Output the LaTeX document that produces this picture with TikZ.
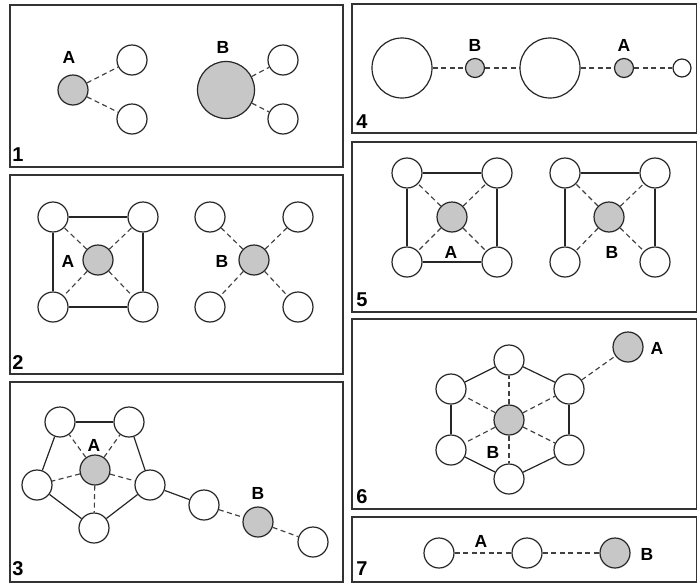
\documentclass[tikz,border=0pt]{standalone}
\usepackage{fontspec}
\setmainfont{Liberation Sans}
\begin{document}
\begin{tikzpicture}[x=1pt,y=-1pt,
  panel/.style={draw=black!80,line width=1.3pt},
  wat/.style={circle,draw=black!85,line width=1.2pt,fill=white,minimum size=30pt,inner sep=0pt},
  ion/.style={wat,fill=black!22},
  lab/.style={font=\fontsize{17.5}{19}\selectfont\bfseries,inner sep=0pt},
  num/.style={font=\fontsize{20}{22}\selectfont\bfseries,inner sep=0pt},
  hb/.style={draw=black!75,line width=1.15pt,dash pattern=on 5pt off 3.5pt},
  bond/.style={draw=black!85,line width=1.2pt}]
\useasboundingbox (0,0) rectangle (697,584);
% panels
\draw[panel] (10,5) rectangle (343,167);
\draw[panel] (10,175) rectangle (343,374);
\draw[panel] (10,382) rectangle (343,582);
\draw[panel] (352,4) rectangle (697,133);
\draw[panel] (352,142) rectangle (697,312);
\draw[panel] (352,319) rectangle (697,509);
\draw[panel] (352,517) rectangle (697,582);
% panel numbers
\node[num] (n1) at (18,155) {1};
\node[num] (n2) at (18,363) {2};
\node[num] (n3) at (18,569) {3};
\node[num] (n4) at (362,122) {4};
\node[num] (n5) at (362,300) {5};
\node[num] (n6) at (362,497) {6};
\node[num] (n7) at (362,569) {7};
% ---- panel 1
\node[ion] (p1a) at (73,90) {};
\node[wat] (p1a1) at (132,60) {};
\node[wat] (p1a2) at (132,119) {};
\draw[hb] (p1a) -- (p1a1);
\draw[hb] (p1a) -- (p1a2);
\node[lab] (p1la) at (69,57) {A};
\node[ion,minimum size=57pt] (p1b) at (226,90) {};
\node[wat] (p1b1) at (283,60) {};
\node[wat] (p1b2) at (283,119) {};
\draw[hb] (p1b) -- (p1b1);
\draw[hb] (p1b) -- (p1b2);
\node[lab] (p1lb) at (223,47) {B};
% ---- panel 2
\node[ion] (p2a) at (98,260) {};
\node[wat] (p2a1) at (53,217) {};
\node[wat] (p2a2) at (143,217) {};
\node[wat] (p2a3) at (53,307) {};
\node[wat] (p2a4) at (143,307) {};
\draw[bond] (p2a1) -- (p2a2);
\draw[bond] (p2a1) -- (p2a3);
\draw[bond] (p2a2) -- (p2a4);
\draw[bond] (p2a3) -- (p2a4);
\foreach \i in {1,...,4} \draw[hb] (p2a) -- (p2a\i);
\node[lab] (p2la) at (68,261) {A};
\node[ion] (p2b) at (254,260) {};
\node[wat] (p2b1) at (210,217) {};
\node[wat] (p2b2) at (298,217) {};
\node[wat] (p2b3) at (210,307) {};
\node[wat] (p2b4) at (298,307) {};
\foreach \i in {1,...,4} \draw[hb] (p2b) -- (p2b\i);
\node[lab] (p2lb) at (222,261) {B};
% ---- panel 3
\node[ion] (p3a) at (95,470) {};
\node[wat] (p3w1) at (60,422) {};
\node[wat] (p3w2) at (129,422) {};
\node[wat] (p3w3) at (37,485) {};
\node[wat] (p3w4) at (150,485) {};
\node[wat] (p3w5) at (94,528) {};
\draw[bond] (p3w1) -- (p3w2);
\draw[bond] (p3w1) -- (p3w3);
\draw[bond] (p3w2) -- (p3w4);
\draw[bond] (p3w3) -- (p3w5);
\draw[bond] (p3w5) -- (p3w4);
\foreach \i in {1,...,5} \draw[hb] (p3a) -- (p3w\i);
\node[lab] (p3la) at (94,445) {A};
\node[wat] (p3c1) at (204,505) {};
\node[ion] (p3b) at (258,522) {};
\node[wat] (p3c2) at (313,542) {};
\draw[bond] (p3w4) -- (p3c1);
\draw[hb] (p3c1) -- (p3b);
\draw[hb] (p3b) -- (p3c2);
\node[lab] (p3lb) at (258,493) {B};
% ---- panel 4
\node[wat,minimum size=60pt] (p4w1) at (402,68) {};
\node[ion,minimum size=19pt] (p4b) at (475,68) {};
\node[wat,minimum size=60pt] (p4w2) at (550,68) {};
\node[ion,minimum size=19pt] (p4a) at (624,68) {};
\node[wat,minimum size=18pt] (p4w3) at (682,68) {};
\draw[hb] (p4w1) -- (p4b);
\draw[hb] (p4b) -- (p4w2);
\draw[hb] (p4w2) -- (p4a);
\draw[hb] (p4a) -- (p4w3);
\node[lab] (p4lb) at (475,45) {B};
\node[lab] (p4la) at (624,45) {A};
% ---- panel 5
\node[ion] (p5a) at (452,217) {};
\node[wat] (p5a1) at (407,173) {};
\node[wat] (p5a2) at (497,173) {};
\node[wat] (p5a3) at (407,262) {};
\node[wat] (p5a4) at (497,262) {};
\draw[bond] (p5a1) -- (p5a2);
\draw[bond] (p5a1) -- (p5a3);
\draw[bond] (p5a2) -- (p5a4);
\draw[bond] (p5a3) -- (p5a4);
\foreach \i in {1,...,4} \draw[hb] (p5a) -- (p5a\i);
\node[lab] (p5la) at (451,252) {A};
\node[ion] (p5b) at (609,217) {};
\node[wat] (p5b1) at (565,173) {};
\node[wat] (p5b2) at (655,173) {};
\node[wat] (p5b3) at (565,262) {};
\node[wat] (p5b4) at (655,262) {};
\draw[bond] (p5b1) -- (p5b2);
\draw[bond] (p5b1) -- (p5b3);
\draw[bond] (p5b2) -- (p5b4);
\foreach \i in {1,...,4} \draw[hb] (p5b) -- (p5b\i);
\node[lab] (p5lb) at (612,252) {B};
% ---- panel 6
\node[ion] (p6b) at (509,420) {};
\node[wat] (p6w1) at (509,360) {};
\node[wat] (p6w2) at (451,389) {};
\node[wat] (p6w3) at (569,389) {};
\node[wat] (p6w4) at (451,450) {};
\node[wat] (p6w5) at (569,450) {};
\node[wat] (p6w6) at (509,479) {};
\draw[bond] (p6w1) -- (p6w2);
\draw[bond] (p6w1) -- (p6w3);
\draw[bond] (p6w2) -- (p6w4);
\draw[bond] (p6w3) -- (p6w5);
\draw[bond] (p6w4) -- (p6w6);
\draw[bond] (p6w5) -- (p6w6);
\foreach \i in {1,...,6} \draw[hb] (p6b) -- (p6w\i);
\node[lab] (p6lb) at (493,452) {B};
\node[ion] (p6a) at (628,347) {};
\draw[hb] (p6w3) -- (p6a);
\node[lab] (p6la) at (657,348) {A};
% ---- panel 7
\node[wat] (p7w1) at (439,553) {};
\node[wat] (p7w2) at (527,553) {};
\node[ion] (p7b) at (615,553) {};
\draw[hb] (p7w1) -- (p7w2);
\draw[hb] (p7w2) -- (p7b);
\node[lab] (p7la) at (481,541) {A};
\node[lab] (p7lb) at (647,554) {B};
\end{tikzpicture}
\end{document}
